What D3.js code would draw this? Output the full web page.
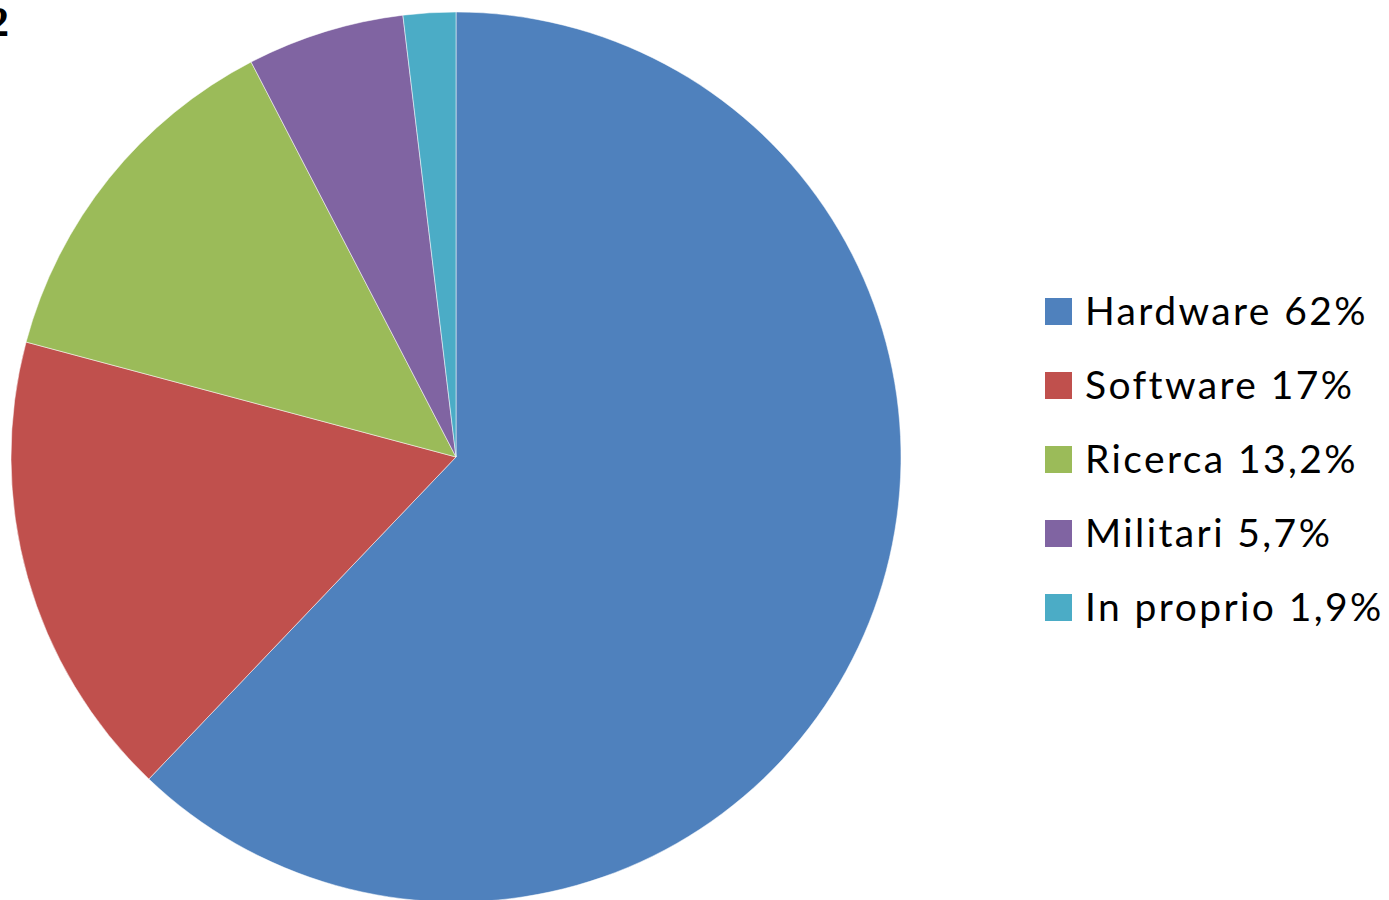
<!DOCTYPE html>
<html>
<head>
<meta charset="utf-8">
<script src="https://cdn.jsdelivr.net/npm/d3@7"></script>
<style>
  html, body { margin: 0; padding: 0; background: #fff; }
  svg { display: block; }
</style>
</head>
<body>
<div id="chart"></div>
<script>
const categories = ['Hardware', 'Software', 'Ricerca', 'Militari', 'In proprio'];
const values = [62, 17, 13.2, 5.7, 1.9];
const labels = ['Hardware 62%', 'Software 17%', 'Ricerca 13,2%', 'Militari 5,7%', 'In proprio 1,9%'];
const colors = ['#4F81BD', '#C0504D', '#9BBB59', '#8064A2', '#4BACC6'];

const width = 1389, height = 900;
const cx = 456, cy = 457, radius = 445;

const svg = d3.select('#chart')
    .append('svg')
    .attr('width', width)
    .attr('height', height);

// cut-off figure number at the top-left corner, as in the source image
svg.append('text')
    .attr('x', 9)
    .attr('y', 36)
    .attr('text-anchor', 'end')
    .style('font-family', '"Liberation Serif", "DejaVu Serif", serif')
    .style('font-weight', 'bold')
    .style('font-size', '42px')
    .text('2');

const pie = d3.pie().sort(null).value(d => d);
const arc = d3.arc().innerRadius(0).outerRadius(radius);

const g = svg.append('g').attr('transform', 'translate(' + cx + ',' + cy + ')');
g.selectAll('path')
    .data(pie(values))
    .join('path')
    .attr('d', arc)
    .style('fill', (_, i) => colors[i])
    .style('stroke', 'rgba(255,255,255,0.5)')
    .style('stroke-width', 1);

// legend
const legend = svg.append('g').attr('transform', 'translate(1045,298)');
const rows = legend.selectAll('g')
    .data(categories)
    .join('g')
    .attr('transform', (_, i) => 'translate(0,' + (i * 74) + ')');

rows.append('rect')
    .attr('width', 27)
    .attr('height', 27)
    .style('fill', (_, i) => colors[i]);

rows.append('text')
    .attr('x', 40)
    .attr('y', 27)
    .style('font-family', 'Lato, "Open Sans", sans-serif')
    .style('font-size', '39px')
    .style('letter-spacing', '2.4px')
    .style('fill', '#000')
    .text((_, i) => labels[i]);
</script>
</body>
</html>
